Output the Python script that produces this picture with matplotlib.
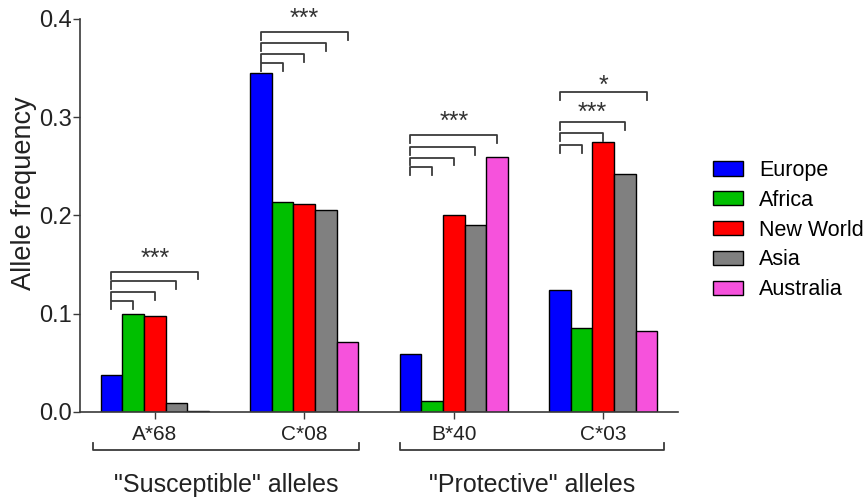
import numpy as np
import matplotlib
matplotlib.use('Agg')
import matplotlib.pyplot as plt

plt.rcParams['font.family'] = ['Liberation Sans', 'DejaVu Sans']

# data
alleles = ['A*68', 'C*08', 'B*40', 'C*03']
regions = ['Europe', 'Africa', 'New World', 'Asia', 'Australia']
europe = [0.038, 0.345, 0.059, 0.124]
africa = [0.100, 0.214, 0.011, 0.085]
new_world = [0.098, 0.212, 0.201, 0.275]
asia = [0.009, 0.206, 0.190, 0.242]
australia = [0.001, 0.071, 0.260, 0.082]
colors = ['#0000FF', '#00BF00', '#FF0000', '#808080', '#F652DC']

# significance brackets: Europe vs bar index, height of each bracket
bracket_targets = [1, 2, 3, 4]
bracket_levels = [
    [0.113, 0.122, 0.133, 0.143],
    [0.355, 0.3645, 0.3756, 0.3868],
    [0.2497, 0.259, 0.270, 0.282],
    [0.272, 0.284, 0.2954, 0.326],
]
star_labels = ['***', '***', '***', '***', '*']
star_group = [0, 1, 2, 3, 3]
star_bracket = [3, 3, 3, 2, 3]
star_y = [0.159, 0.403, 0.298, 0.307, 0.335]

# allele classes under the axis
class_labels = ['"Susceptible" alleles', '"Protective" alleles']
class_spans = [(-0.415, 1.366), (1.641, 3.409)]

series = [europe, africa, new_world, asia, australia]
width = 0.145
line_col = '#3a3a3a'

fig = plt.figure(figsize=(8.65, 4.99), dpi=100)
ax = fig.add_axes([80 / 865, 87 / 499, 598 / 865, 393 / 499])

x = np.arange(len(alleles))
for i, vals in enumerate(series):
    ax.bar(x + (i - 2) * width, vals, width, color=colors[i], edgecolor='black',
           linewidth=1, label=regions[i], zorder=2)

ax.set_xlim(-0.5, 3.5)
ax.set_ylim(0, 0.4)
ax.set_yticks([0.0, 0.1, 0.2, 0.3, 0.4])
ax.set_yticklabels(['0.0', '0.1', '0.2', '0.3', '0.4'])
ax.set_xticks(x)
ax.set_xticklabels(alleles)
ax.tick_params(axis='y', labelsize=17, length=5, width=1, pad=0.5, color=line_col, labelcolor='#222222')
ax.tick_params(axis='x', labelsize=15, length=5, width=1, pad=4, color=line_col, labelcolor='#222222')
for s in ['top', 'right']:
    ax.spines[s].set_visible(False)
for s in ['left', 'bottom']:
    ax.spines[s].set_color(line_col)
    ax.spines[s].set_linewidth(1.2)

ax.set_ylabel('Allele frequency', fontsize=19.5, color='#222222')
ax.yaxis.set_label_coords(-0.072, 0.557)

# brackets
leg = 0.008
for g in range(len(alleles)):
    xl = x[g] - 2 * width
    for t, lvl in zip(bracket_targets, bracket_levels[g]):
        xr = x[g] + (t - 2) * width
        ax.plot([xl, xl, xr, xr], [lvl - leg, lvl, lvl, lvl - leg],
                color=line_col, lw=1.3, clip_on=False, zorder=3)

for lab, g, b, yy in zip(star_labels, star_group, star_bracket, star_y):
    xl = x[g] - 2 * width
    xr = x[g] + (bracket_targets[b] - 2) * width
    ax.text((xl + xr) / 2, yy - 0.010, lab, ha='center', va='baseline',
            fontsize=18, color='#333333', clip_on=False)

# class brackets below the tick labels
for lab, (a, b) in zip(class_labels, class_spans):
    ax.plot([a, a, b, b], [-0.0315, -0.0386, -0.0386, -0.0315], color=line_col,
            lw=1.3, clip_on=False)
    ax.text((a + b) / 2, -0.081, lab, ha='center', va='baseline', fontsize=18,
            color='#222222', clip_on=False)

ax.legend(loc='upper left', bbox_to_anchor=(713 / 865, (499 - 160) / 499),
          bbox_transform=fig.transFigure, frameon=False, fontsize=15.5,
          handlelength=1.4, handleheight=0.65, handletextpad=0.74,
          labelspacing=0.41, borderpad=0, borderaxespad=0)

fig.savefig('out.png', dpi=100)
